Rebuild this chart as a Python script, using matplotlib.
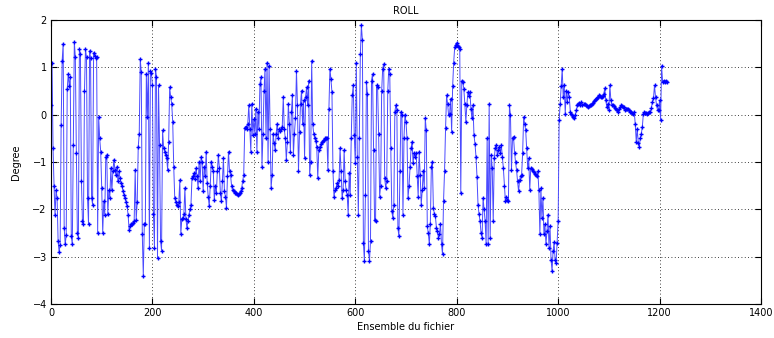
import matplotlib
matplotlib.use("Agg")
import matplotlib.pyplot as plt
import numpy as np

# Ensemble number step between two read samples
step = 2

roll = [
    0.2, 1.1, -0.7, -1.5, -2.13, -1.6, -1.75, -2.67, -2.9, -2.75,
    -0.22, 1.14, 1.5, -2.39, -2.74, -2.55, 0.55, 0.86, 0.6, 0.79,
    -2.57, -2.74, -0.64, 1.54, 1.21, -0.82, -2.5, -2.6, 1.38, 1.28,
    -1.41, -2.25, -2.32, 0.51, 1.38, 1.21, -1.76, -2.32, 1.35, 1.2,
    -1.75, -1.9, 1.31, 1.25, 1.2, 1.21, -2.5, -0.05, -0.5, -0.78,
    -1.55, -2.5, -1.83, -2.11, -0.9, -0.85, -2.1, -1.6, -1.76, -1.13,
    -1.6, -1.2, -0.95, -1.17, -1.27, -1.1, -1.41, -1.2, -1.34, -1.44,
    -1.5, -1.62, -1.69, -1.76, -1.85, -1.94, -2.11, -2.43, -2.35, -2.3,
    -2.32, -2.28, -2.25, -1.17, -2.22, -1.85, -0.68, -0.4, 1.17, 0.9,
    -2.53, -3.4, -2.3, -2.32, 0.86, -0.05, 1.1, -2.81, 0.93, 0.88,
    0.62, -2.1, -2.81, 0.97, 0.8, -3.02, 0.62, -0.64, -2.67, -2.87,
    -0.33, -0.7, -0.78, -0.85, -0.92, -1.17, -0.57, 0.58, 0.37, 0.23,
    -0.15, -1.1, -1.76, -1.85, -1.9, -1.94, -1.85, -1.38, -2.53, -2.2,
    -2.18, -2.1, -1.55, -2.2, -2.39, -2.25, -2.11, -2.0, -1.9, -1.34,
    -1.3, -1.24, -1.35, -1.13, -1.3, -1.55, -1.0, -1.4, -0.89, -1.0,
    -1.62, -1.1, -1.3, -0.78, -1.45, -1.73, -1.94, -1.5, -0.99, -1.1,
    -1.2, -1.8, -1.5, -1.66, -1.2, -0.85, -1.13, -1.66, -1.83, -1.4,
    -0.92, -1.62, -1.73, -1.97, -1.3, -0.78, -1.2, -1.27, -1.5, -1.6,
    -1.62, -1.65, -1.66, -1.68, -1.7, -1.68, -1.66, -1.62, -1.55, -1.4,
    -1.27, -0.29, -0.25, -0.3, -0.2, 0.2, -0.3, -0.78, 0.23, -0.43,
    -0.1, -0.4, 0.13, -0.78, 0.06, -0.3, 0.65, 0.79, -1.1, -0.4,
    0.5, 0.97, -0.5, 1.1, -0.99, 1.03, -0.3, -1.55, -1.27, -0.4,
    -0.6, -0.75, -0.4, -0.19, -0.5, -0.3, -0.35, -0.3, -0.25, 0.37,
    -0.3, -0.5, -0.96, -0.57, 0.23, -0.2, -0.78, 0.06, 0.41, -0.85,
    -0.4, -0.08, 0.93, 0.2, -1.2, -0.36, 0.23, 0.51, -0.2, 0.3,
    -0.92, 0.37, 0.58, 0.2, 0.72, -1.27, -0.99, 1.14, -0.2, -0.4,
    -0.5, -0.55, -0.68, -1.34, -0.75, -0.68, -0.62, -0.58, -0.56, -0.53,
    -0.5, -0.5, -0.49, -1.17, 0.13, 0.97, 0.75, 0.47, -1.2, -1.73,
    -1.6, -1.55, -1.45, -1.5, -1.38, -0.71, -1.2, -1.76, -1.6, -0.75,
    -1.4, -1.6, -1.69, -2.11, -1.24, -1.69, -0.5, 0.41, 0.62, -0.43,
    -1.03, 1.1, -0.9, -2.11, -0.5, 1.28, 1.89, 1.58, -2.71, -3.09,
    -1.69, 0.69, 0.44, -2.88, -3.09, -2.67, 0.72, 0.86, -0.75, -2.22,
    -2.25, 0.62, 0.58, -0.4, -1.73, -1.5, 0.5, 0.97, 1.07, -1.34,
    -1.55, -1.4, 0.5, 0.97, 0.86, -0.71, -2.04, -2.18, -1.9, 0.06,
    0.2, 0.1, -2.39, -2.57, -1.2, 0.06, 0.0, -2.11, -0.5, 0.0,
    -0.15, -0.5, -1.76, -1.5, -1.1, -0.71, -0.57, -1.03, -0.8, -0.9,
    -0.82, -1.3, -1.73, -0.78, -1.27, -1.9, -1.6, -1.2, -1.55, -0.08,
    -0.33, -2.36, -2.5, -2.74, -2.3, -1.1, -0.99, -1.97, -2.1, -2.15,
    -2.39, -2.45, -2.6, -2.53, -2.3, -2.74, -2.95, -1.83, -1.2, -0.29,
    0.41, 0.23, -0.01, 0.02, 0.34, -0.36, 0.6, 1.1, 1.42, 1.48,
    1.52, 1.45, 1.42, 1.38, -1.66, 0.72, 0.69, 0.55, 0.23, -0.15,
    0.2, 0.47, 0.4, 0.47, 0.13, -0.08, 0.2, -0.43, -0.61, -0.89,
    -1.31, -1.9, -2.1, -2.25, -2.5, -2.6, -1.76, -2.0, -2.25, -2.74,
    -0.5, -2.74, 0.23, -2.6, -0.85, -1.13, -2.25, -0.92, -0.7, -0.64,
    -0.85, -0.75, -0.68, -0.8, -0.64, -0.9, -1.13, -1.5, -1.83, -1.73,
    -1.8, -1.83, 0.2, -0.01, -1.17, -0.5, -0.47, -0.8, -1.0, -1.17,
    -1.41, -1.62, -1.38, -1.3, -1.27, -0.8, -0.05, -0.2, -0.33, -0.71,
    -1.13, -0.92, -1.59, -1.13, -1.15, -1.2, -1.22, -1.25, -1.27, -1.3,
    -1.2, -1.6, -2.53, -1.55, -2.18, -1.76, -2.53, -2.32, -2.74, -2.46,
    -2.11, -2.81, -2.36, -3.06, -3.3, -2.88, -2.7, -3.06, -3.13, -2.71,
    -2.25, -0.12, 0.23, 0.6, 0.97, 0.37, 0.62, 0.02, 0.51, 0.27,
    0.48, 0.37, 0.06, 0.02, -0.01, -0.05, -0.08, 0.0, 0.09, 0.2,
    0.23, 0.25, 0.2, 0.27, 0.2, 0.22, 0.23, 0.2, 0.18, 0.16,
    0.18, 0.2, 0.2, 0.22, 0.25, 0.28, 0.3, 0.34, 0.36, 0.38,
    0.41, 0.4, 0.37, 0.37, 0.4, 0.44, 0.56, 0.3, 0.16, 0.23,
    0.09, 0.62, 0.3, 0.2, 0.2, 0.18, 0.15, 0.13, 0.1, 0.06,
    0.12, 0.16, 0.2, 0.18, 0.16, 0.16, 0.09, 0.12, 0.13, 0.13,
    0.1, 0.06, 0.05, 0.04, 0.02, 0.06, -0.19, -0.57, -0.3, -0.6,
    -0.68, -0.5, -0.4, -0.26, 0.02, 0.06, 0.04, 0.03, 0.02, 0.04,
    0.06, 0.06, 0.15, 0.27, 0.35, 0.62, 0.37, 0.2, 0.1, 0.09,
    0.3, -0.12, 1.03, 0.69, 0.72, 0.7, 0.72, 0.69,
]

x_ticks = [0, 200, 400, 600, 800, 1000, 1200, 1400]
y_ticks = [-4, -3, -2, -1, 0, 1, 2]

ensemble = np.arange(len(roll)) * step

fig = plt.figure(figsize=(7.74, 3.38), dpi=100)
ax = fig.add_axes([51 / 774, 34 / 338, 710 / 774, 284 / 338])

# thin light line, solid blue "+" markers like the MATLAB export
ax.plot(ensemble, roll, color="#4a4aff", linewidth=0.7)
ax.plot(ensemble, roll, linestyle="none", marker="+", markersize=3.5,
        markeredgewidth=1.0, color="#0000ff")

ax.set_xlim(0, 1400)
ax.set_ylim(-4, 2)
ax.set_xticks(x_ticks)
ax.set_yticks(y_ticks)
ax.tick_params(direction="in", length=4, width=0.8, labelsize=7,
               top=True, right=True, pad=3)
ax.grid(True, color="black", linestyle=(0, (1, 3)), linewidth=0.6)
for spine in ax.spines.values():
    spine.set_linewidth(0.8)

ax.set_title("ROLL", fontsize=7, pad=4)
ax.set_xlabel("Ensemble du fichier", fontsize=7, labelpad=3)
ax.set_ylabel("Degree", fontsize=7, labelpad=8)

fig.savefig("out.png", dpi=100)
